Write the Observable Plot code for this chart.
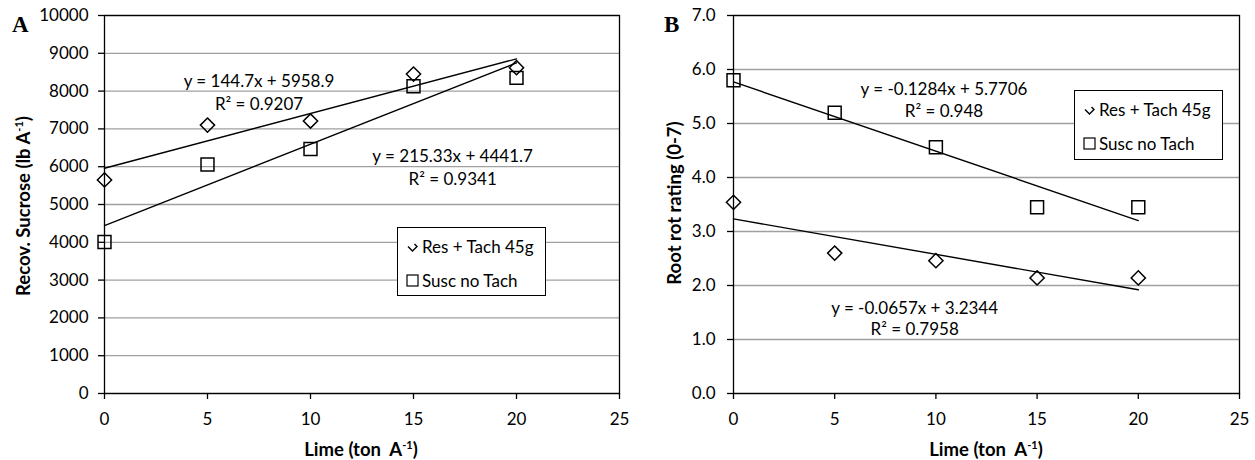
<!DOCTYPE html>
<html>
<head>
<meta charset="utf-8">
<script src="https://cdn.jsdelivr.net/npm/d3@7"></script>
<script src="https://cdn.jsdelivr.net/npm/@observablehq/plot@0.6"></script>
<style>
  html, body { margin: 0; padding: 0; background: #fff; }
  #wrap { position: relative; width: 1255px; height: 460px; font-family: Lato, "DejaVu Sans", sans-serif; }
  .panel { position: absolute; top: 0; }
  .panel svg { overflow: visible; }
  .letter { position: absolute; font-family: "Liberation Serif", "DejaVu Serif", serif; font-weight: bold; font-size: 23px; line-height: 1; }
  .legend { position: absolute; border: 1px solid #000; background: #fff; box-sizing: border-box; }
  .legend .row { position: absolute; left: 8px; font-size: 17px; line-height: 1; display: flex; align-items: center; white-space: nowrap; }
  .legend .row svg { margin-right: 3px; }
</style>
</head>
<body>
<div id="wrap"></div>
<script>
// ---------- data ----------
const lime = [0, 5, 10, 15, 20];
const xTicks = [0, 5, 10, 15, 20, 25];
const seriesNames = ["Res + Tach 45g", "Susc no Tach"];

// Panel A: recoverable sucrose (lb A-1)
const sucroseRes = [5650, 7100, 7210, 8450, 8620];
const sucroseSusc = [4010, 6060, 6470, 8130, 8350];
const sucroseSlopes = [144.7, 215.33];
const sucroseIntercepts = [5958.9, 4441.7];
const sucroseEq = ["y = 144.7x + 5958.9", "y = 215.33x + 4441.7"];
const sucroseR2 = ["R² = 0.9207", "R² = 0.9341"];
const sucroseEqX = [7.5, 16.9];
const sucroseEqY = [8250, 6280];
const sucroseR2Y = [7640, 5670];
const sucroseTicks = [0, 1000, 2000, 3000, 4000, 5000, 6000, 7000, 8000, 9000, 10000];

// Panel B: root rot rating (0-7)
const rotRes = [3.54, 2.6, 2.46, 2.14, 2.14];
const rotSusc = [5.80, 5.20, 4.56, 3.45, 3.45];
const rotSlopes = [-0.0657, -0.1284];
const rotIntercepts = [3.2344, 5.7706];
const rotEq = ["y = -0.0657x + 3.2344", "y = -0.1284x + 5.7706"];
const rotR2 = ["R² = 0.7958", "R² = 0.948"];
const rotEqX = [8.95, 10.4];
const rotEqY = [1.58, 5.62];
const rotR2Y = [1.19, 5.23];
const rotTicks = [0, 1, 2, 3, 4, 5, 6, 7];

// ---------- helpers ----------
function pointsOf(ys) { return lime.map((x, i) => ({x, y: ys[i]})); }
function fitOf(slopes, intercepts) {
  const x0 = d3.min(lime), x1 = d3.max(lime);
  const out = [];
  slopes.forEach((m, k) => {
    out.push({x: x0, y: m * x0 + intercepts[k], s: k});
    out.push({x: x1, y: m * x1 + intercepts[k], s: k});
  });
  return out;
}
function labelsOf(xs, ys, texts) { return texts.map((t, i) => ({x: xs[i], y: ys[i], t})); }

const FONT = 'Lato, "DejaVu Sans", sans-serif';
const GRID = "#a0a0a0";

function makePanel(opts) {
  const fit = fitOf(opts.slopes, opts.intercepts);
  const eqs = [...labelsOf(opts.eqX, opts.eqY, opts.eq), ...labelsOf(opts.eqX, opts.r2Y, opts.r2)];
  return Plot.plot({
    width: opts.width,
    height: 460,
    marginLeft: opts.marginLeft,
    marginRight: opts.marginRight,
    marginTop: 15,
    marginBottom: 67,
    style: {fontFamily: FONT, fontSize: "17px", color: "#000", background: "transparent", overflow: "visible"},
    x: {domain: [0, 25]},
    y: {domain: opts.yDomain},
    marks: [
      Plot.gridY(opts.yTicks, {stroke: GRID, strokeOpacity: 1, strokeWidth: 1.3}),
      Plot.frame({stroke: "#000", strokeWidth: 1.3}),
      Plot.axisX(xTicks, {tickSize: 6, tickPadding: 13, fontSize: 17, label: null, strokeWidth: 1.3}),
      Plot.axisY(opts.yTicks, {tickSize: 6, tickPadding: opts.yPad, fontSize: 17, label: null, tickFormat: opts.yFormat, strokeWidth: 1.3}),
      Plot.line(fit, {x: "x", y: "y", z: "s", stroke: "#000", strokeWidth: 1.4}),
      Plot.dot(pointsOf(opts.res), {x: "x", y: "y", symbol: "diamond2", r: 6.4, stroke: "#000", fill: "none", strokeWidth: 1.5}),
      Plot.dot(pointsOf(opts.susc), {x: "x", y: "y", symbol: "square", r: 7.3, stroke: "#000", fill: "none", strokeWidth: 1.5}),
      Plot.text(eqs, {x: "x", y: "y", text: "t", fontSize: 17, fill: "#000", textAnchor: "middle"})
    ]
  });
}

const wrap = document.getElementById("wrap");

const pA = document.createElement("div");
pA.className = "panel"; pA.style.left = "0px";
pA.appendChild(makePanel({
  width: 640, marginLeft: 104, marginRight: 21,
  res: sucroseRes, susc: sucroseSusc, slopes: sucroseSlopes, intercepts: sucroseIntercepts,
  eq: sucroseEq, r2: sucroseR2, eqX: sucroseEqX, eqY: sucroseEqY, r2Y: sucroseR2Y,
  yDomain: [0, 10000], yTicks: sucroseTicks, yPad: 10, yFormat: d => String(d)
}));
wrap.appendChild(pA);

const pB = document.createElement("div");
pB.className = "panel"; pB.style.left = "640px";
pB.appendChild(makePanel({
  width: 615, marginLeft: 93, marginRight: 16,
  res: rotRes, susc: rotSusc, slopes: rotSlopes, intercepts: rotIntercepts,
  eq: rotEq, r2: rotR2, eqX: rotEqX, eqY: rotEqY, r2Y: rotR2Y,
  yDomain: [0, 7], yTicks: rotTicks, yPad: 12, yFormat: d => d.toFixed(1)
}));
wrap.appendChild(pB);

// axis titles (HTML text with superscripts)
function addText(html, css) {
  const d = document.createElement("div");
  d.innerHTML = html;
  d.style.position = "absolute";
  d.style.fontWeight = "bold";
  d.style.fontSize = "18.5px";
  d.style.lineHeight = "1";
  d.style.whiteSpace = "nowrap";
  Object.assign(d.style, css);
  wrap.appendChild(d);
  return d;
}
const supCss = 'style="font-size:11px;vertical-align:7px"';
addText(`Lime (ton&nbsp; A<span ${supCss}>-1</span>)`, {left: "361px", top: "439px", transform: "translateX(-50%)"});
addText(`Lime (ton&nbsp; A<span ${supCss}>-1</span>)`, {left: "986px", top: "439px", transform: "translateX(-50%)"});
addText(`Recov. Sucrose (lb A<span ${supCss}>-1</span>)`, {left: "23px", top: "206px", transform: "translate(-50%,-50%) rotate(-90deg)"});
addText(`Root rot rating (0-7)`, {left: "674px", top: "203px", transform: "translate(-50%,-50%) rotate(-90deg)"});

// panel letters
function addLetter(t, left, top) {
  const d = document.createElement("div");
  d.className = "letter"; d.textContent = t;
  d.style.left = left + "px"; d.style.top = top + "px";
  wrap.appendChild(d);
}
addLetter("A", 12, 13);
addLetter("B", 664, 13);

// legends
const symSvg = [
  '<svg width="13" height="13" viewBox="0 0 13 13"><polyline points="2,6.5 6.5,11 11,6.5 8.5,4" fill="none" stroke="#000" stroke-width="1.4"/></svg>',
  '<svg width="13" height="13" viewBox="0 0 13 13"><rect x="1" y="1" width="11" height="11" fill="none" stroke="#000" stroke-width="1.2"/></svg>'
];
function addLegend(left, top, w, h, rowTops) {
  const lg = document.createElement("div");
  lg.className = "legend";
  Object.assign(lg.style, {left: left + "px", top: top + "px", width: w + "px", height: h + "px"});
  seriesNames.forEach((name, i) => {
    const r = document.createElement("div");
    r.className = "row";
    r.style.top = rowTops[i] + "px";
    r.innerHTML = symSvg[i] + "<span>" + name + "</span>";
    lg.appendChild(r);
  });
  wrap.appendChild(lg);
}
addLegend(397, 227, 149, 69, [10, 44]);
addLegend(1074, 90, 149, 70, [10, 44]);
</script>
</body>
</html>
